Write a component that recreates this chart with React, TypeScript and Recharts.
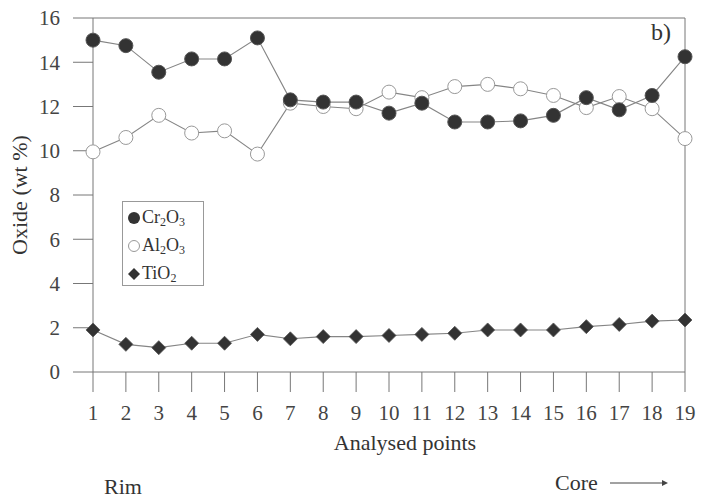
import { LineChart, Line, XAxis, YAxis, ReferenceLine } from "recharts";

const points = [1, 2, 3, 4, 5, 6, 7, 8, 9, 10, 11, 12, 13, 14, 15, 16, 17, 18, 19];
const cr2o3 = [15.0, 14.75, 13.55, 14.15, 14.15, 15.1, 12.3, 12.2, 12.2, 11.7, 12.15, 11.3, 11.3, 11.35, 11.6, 12.4, 11.85, 12.5, 14.25];
const al2o3 = [9.95, 10.6, 11.6, 10.8, 10.9, 9.85, 12.15, 12.0, 11.9, 12.65, 12.4, 12.9, 13.0, 12.8, 12.5, 11.95, 12.45, 11.9, 10.55];
const tio2 = [1.9, 1.25, 1.1, 1.3, 1.3, 1.7, 1.5, 1.6, 1.6, 1.65, 1.7, 1.75, 1.9, 1.9, 1.9, 2.05, 2.15, 2.3, 2.35];
const yTicks = [0, 2, 4, 6, 8, 10, 12, 14, 16];

const data = points.map((p, i) => ({ p, cr: cr2o3[i], al: al2o3[i], ti: tio2[i] }));

const serif = "'Liberation Serif', 'Times New Roman', Times, 'DejaVu Serif', serif";
const ink = "#333";
const lineGray = "#858585";
const tickStyle = { fontSize: 21, fill: "#444", fontFamily: serif };

function Diamond(props: any) {
  const { cx, cy, index } = props;
  if (cx == null || cy == null) return null;
  const s = 7;
  return (
    <polygon
      key={`d-${index}`}
      points={`${cx},${cy - s} ${cx + s},${cy} ${cx},${cy + s} ${cx - s},${cy}`}
      fill={ink}
      stroke="#555"
      strokeWidth={0.8}
    />
  );
}

function LegendBox() {
  const row = { display: "flex", alignItems: "center", height: 28 };
  const sub = { fontSize: 12, verticalAlign: "-3px" };
  return (
    <div
      style={{
        position: "absolute",
        left: 122,
        top: 201,
        border: "1px solid #999",
        width: 82,
        height: 85,
        padding: "2px 0 0 4px",
        boxSizing: "border-box",
        fontFamily: serif,
        fontSize: 18,
        color: "#333",
        background: "#fff",
      }}
    >
      <div style={row}>
        <svg width={14} height={14}>
          <circle cx={7} cy={7} r={6} fill={ink} />
        </svg>
        <span style={{ marginLeft: 1 }}>
          Cr<span style={sub}>2</span>O<span style={sub}>3</span>
        </span>
      </div>
      <div style={row}>
        <svg width={14} height={14}>
          <circle cx={7} cy={7} r={5.5} fill="none" stroke="#999" strokeWidth={1} />
        </svg>
        <span style={{ marginLeft: 1 }}>
          Al<span style={sub}>2</span>O<span style={sub}>3</span>
        </span>
      </div>
      <div style={row}>
        <svg width={14} height={14}>
          <polygon points="7,1 13,7 7,13 1,7" fill={ink} />
        </svg>
        <span style={{ marginLeft: 1 }}>
          TiO<span style={sub}>2</span>
        </span>
      </div>
    </div>
  );
}

export default function App() {
  return (
    <div style={{ position: "absolute", left: 0, top: 0, width: 709, height: 499, background: "#fff", fontFamily: serif }}>
      <LineChart width={709} height={499} data={data} margin={{ top: 18, right: 24, bottom: 0, left: 0 }}>
        <XAxis
          dataKey="p"
          type="number"
          domain={[1, 19]}
          ticks={points}
          interval={0}
          height={127}
          tickSize={20}
          tickMargin={13}
          tick={tickStyle}
          stroke="#777"
        />
        <YAxis
          type="number"
          domain={[0, 16]}
          ticks={yTicks}
          width={93}
          tickSize={20}
          tickMargin={13}
          tick={tickStyle}
          stroke="#777"
        />
        <ReferenceLine y={16} stroke="#777" />
        <ReferenceLine x={19} stroke="#777" />
        <Line
          dataKey="al"
          stroke={lineGray}
          strokeWidth={1.1}
          dot={{ r: 7, fill: "#fff", stroke: "#999", strokeWidth: 1 }}
          isAnimationActive={false}
        />
        <Line
          dataKey="cr"
          stroke={lineGray}
          strokeWidth={1.1}
          dot={{ r: 7, fill: ink, stroke: "#555", strokeWidth: 1 }}
          isAnimationActive={false}
        />
        <Line
          dataKey="ti"
          stroke={lineGray}
          strokeWidth={1.1}
          dot={<Diamond />}
          isAnimationActive={false}
        />
      </LineChart>

      <LegendBox />

      <div
        style={{
          position: "absolute",
          left: 20,
          top: 195,
          transform: "translate(-50%, -50%) rotate(-90deg)",
          fontSize: 22,
          color: "#333",
          whiteSpace: "nowrap",
          lineHeight: 1,
        }}
      >
        Oxide (wt %)
      </div>
      <div style={{ position: "absolute", left: 651, top: 20, fontSize: 24, color: "#333", lineHeight: 1 }}>b)</div>
      <div
        style={{
          position: "absolute",
          left: 405,
          top: 443,
          transform: "translate(-50%, -50%)",
          fontSize: 22,
          color: "#333",
          whiteSpace: "nowrap",
          lineHeight: 1,
        }}
      >
        Analysed points
      </div>
      <div style={{ position: "absolute", left: 104, top: 476, fontSize: 22, color: "#333", lineHeight: 1 }}>Rim</div>
      <div
        style={{
          position: "absolute",
          left: 555,
          top: 472,
          fontSize: 22,
          color: "#333",
          whiteSpace: "nowrap",
          display: "flex",
          alignItems: "center",
          lineHeight: 1,
        }}
      >
        Core
        <svg width={60} height={12} style={{ marginLeft: 12 }}>
          <line x1={0} y1={6} x2={52} y2={6} stroke="#444" strokeWidth={1} />
          <polygon points="52,3 58,6 52,9" fill="#444" />
        </svg>
      </div>
    </div>
  );
}
